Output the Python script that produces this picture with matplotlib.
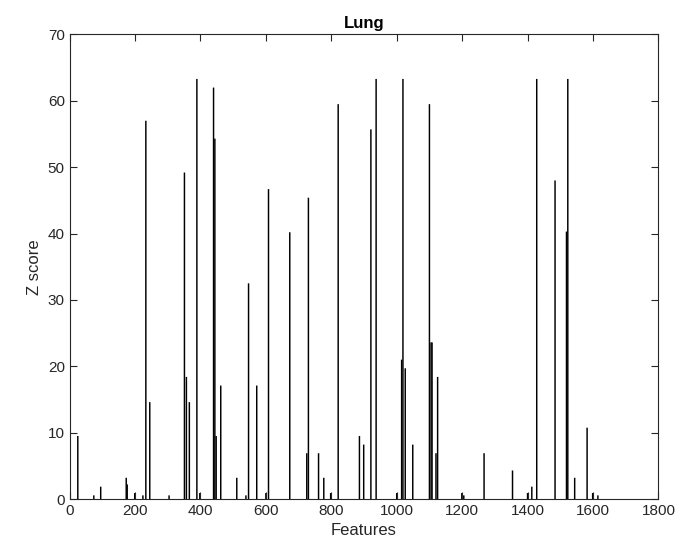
import matplotlib
matplotlib.use("Agg")
import matplotlib.pyplot as plt

# feature index and z score of each selected feature
features = [25, 74, 95, 173, 176, 199, 224, 233, 245, 304, 351, 357, 366,
            389, 398, 440, 444, 448, 462, 511, 539, 547, 572, 600, 608,
            673, 725, 730, 761, 777, 798, 821, 886, 899, 921, 937, 1000,
            1015, 1019, 1026, 1049, 1100, 1105, 1108, 1120, 1125, 1199,
            1205, 1267, 1354, 1400, 1413, 1428, 1484, 1519, 1523, 1544,
            1582, 1599, 1615]
zscore = [9.5, 0.55, 1.86, 3.2, 2.2, 0.9, 0.55, 57.0, 14.6, 0.55, 49.2, 18.4, 14.6,
          63.3, 0.9, 62.0, 54.3, 9.5, 17.1, 3.2, 0.55, 32.5, 17.1, 0.9, 46.7,
          40.2, 6.9, 45.4, 6.9, 3.2, 0.9, 59.5, 9.5, 8.2, 55.7, 63.3, 0.9,
          21.0, 63.3, 19.7, 8.2, 59.5, 23.6, 23.6, 6.9, 18.4, 0.9,
          0.55, 6.9, 4.3, 0.9, 1.86, 63.3, 48.0, 40.3, 63.3, 3.2,
          10.75, 0.9, 0.55]

plt.rcParams['font.family'] = ['Liberation Sans', 'DejaVu Sans']
axcol = '#262626'

fig = plt.figure(figsize=(6.78, 5.56), dpi=100)
ax = fig.add_axes([0.1027, 0.1025, 0.8684, 0.8355])

# thin bars, no pixel snapping so they all come out about the same width
bars = ax.bar(features, zscore, width=4.5, color='black', linewidth=0)
for b in bars:
    b.set_snap(False)

ax.set_xlim(0, 1800)
ax.set_ylim(0, 70)
ax.set_xticks(range(0, 1801, 200))
ax.set_yticks(range(0, 71, 10))

ax.tick_params(direction='in', length=5, width=0.8, top=True, right=True,
               colors=axcol, labelsize=11, labelcolor=axcol)
for s in ax.spines.values():
    s.set_color(axcol)
    s.set_linewidth(0.8)

ax.set_xlabel('Features', fontsize=12, color=axcol)
ax.set_ylabel('Z score', fontsize=12, color=axcol)
ax.set_title('Lung', fontsize=12, fontweight='bold', color='black', pad=5)

fig.savefig('out.png', dpi=100)
